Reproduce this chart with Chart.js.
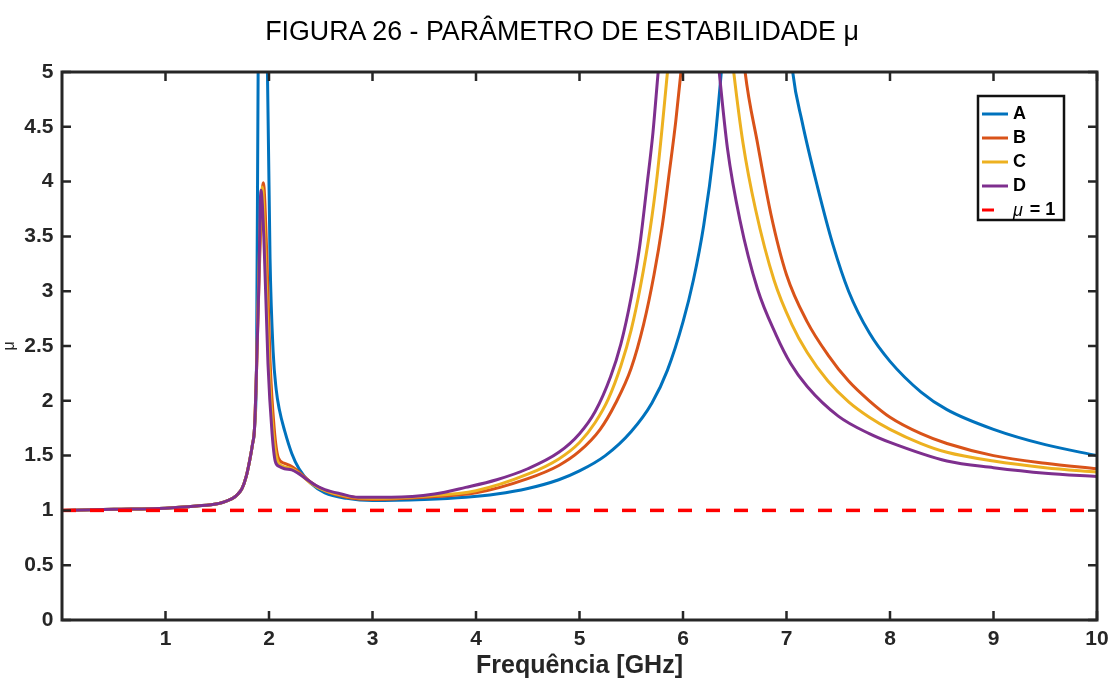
<!DOCTYPE html>
<html lang="pt">
<head>
    <meta charset="UTF-8">
    <title>Parâmetro de estabilidade μ</title>
    <style>
        body {
            margin: 0;
            background: #fff;
        }

        .figure {
            position: relative;
            width: 1112px;
            height: 681px;
            overflow: hidden;
        }

        .caption {
            position: absolute;
            left: 0;
            top: 18px;
            width: 1124px;
            text-align: center;
            font-family: "Liberation Sans", Arial, sans-serif;
            font-size: 26.8px;
            line-height: 26.5px;
            color: #000;
            z-index: 1;
        }
    </style>
</head>
<body>
    <div class="figure">
        <div class="caption">FIGURA 26 - PARÂMETRO DE ESTABILIDADE μ</div>
        <canvas id="muChart"></canvas>
    </div>

    <script src="https://cdn.jsdelivr.net/npm/chart.js"></script>
    <script>
        // frequência (GHz) e fator de estabilidade μ de cada circuito
        const freqA = [0, 0.5, 1.0, 1.3, 1.5, 1.6, 1.65, 1.7, 1.74, 1.78, 1.81, 1.84, 1.86, 1.88, 1.895, 1.94, 1.985, 2.01, 2.04, 2.07, 2.1, 2.15, 2.22, 2.29, 2.4, 2.54, 2.75, 3.0, 3.5, 3.9, 4.2, 4.5, 4.8, 5.0, 5.25, 5.5, 5.7, 5.85, 6.0, 6.1, 6.2, 6.3, 6.37, 6.7, 7.06, 7.15, 7.3, 7.45, 7.6, 7.8, 8.0, 8.3, 8.55, 9.0, 9.5, 10];
        const muA = [1.0, 1.01, 1.02, 1.04, 1.06, 1.09, 1.11, 1.15, 1.2, 1.31, 1.44, 1.6, 1.75, 2.4, 5.0, 9.0, 5.0, 3.3, 2.45, 2.1, 1.92, 1.73, 1.52, 1.38, 1.25, 1.16, 1.11, 1.09, 1.10, 1.12, 1.15, 1.2, 1.28, 1.36, 1.5, 1.72, 1.98, 2.28, 2.72, 3.1, 3.6, 4.3, 5.0, 9.0, 5.0, 4.55, 3.95, 3.42, 3.0, 2.62, 2.36, 2.08, 1.92, 1.74, 1.6, 1.5];

        const freqB = [0, 0.5, 1.0, 1.3, 1.5, 1.6, 1.65, 1.7, 1.74, 1.78, 1.81, 1.84, 1.86, 1.88, 1.91, 1.945, 1.98, 2.01, 2.05, 2.09, 2.15, 2.22, 2.29, 2.4, 2.54, 2.75, 3.0, 3.5, 4.0, 4.5, 4.8, 5.0, 5.2, 5.35, 5.5, 5.62, 5.72, 5.8, 5.87, 5.93, 5.98, 6.3, 6.6, 6.72, 6.85, 7.0, 7.2, 7.4, 7.6, 7.8, 8.0, 8.3, 8.55, 9.0, 9.5, 10];
        const muB = [1.0, 1.01, 1.02, 1.04, 1.06, 1.09, 1.11, 1.15, 1.2, 1.31, 1.44, 1.6, 1.75, 2.3, 3.3, 3.99, 3.3, 2.37, 1.75, 1.48, 1.43, 1.40, 1.35, 1.26, 1.18, 1.12, 1.10, 1.12, 1.16, 1.29, 1.41, 1.54, 1.74, 1.98, 2.3, 2.7, 3.15, 3.6, 4.1, 4.55, 5.0, 8.0, 5.0, 4.35, 3.7, 3.15, 2.72, 2.42, 2.18, 2.0, 1.85, 1.7, 1.61, 1.5, 1.43, 1.38];

        const freqC = [0, 0.5, 1.0, 1.3, 1.5, 1.6, 1.65, 1.7, 1.74, 1.78, 1.81, 1.84, 1.86, 1.88, 1.9, 1.935, 1.97, 2.0, 2.04, 2.08, 2.14, 2.22, 2.29, 2.4, 2.54, 2.75, 3.0, 3.5, 4.0, 4.5, 4.8, 5.0, 5.15, 5.28, 5.4, 5.5, 5.59, 5.68, 5.75, 5.85, 6.15, 6.49, 6.58, 6.7, 6.88, 7.05, 7.2, 7.4, 7.6, 7.8, 8.0, 8.3, 8.55, 9.0, 9.5, 10];
        const muC = [1.0, 1.01, 1.02, 1.04, 1.06, 1.09, 1.11, 1.15, 1.2, 1.31, 1.44, 1.6, 1.75, 2.3, 3.1, 3.95, 3.2, 2.35, 1.72, 1.46, 1.40, 1.38, 1.34, 1.25, 1.18, 1.13, 1.11, 1.13, 1.18, 1.33, 1.47, 1.62, 1.8, 2.02, 2.32, 2.65, 3.05, 3.55, 4.05, 5.0, 8.0, 5.0, 4.35, 3.75, 3.1, 2.7, 2.44, 2.18, 1.99, 1.85, 1.74, 1.61, 1.53, 1.45, 1.39, 1.35];

        const freqD = [0, 0.5, 1.0, 1.3, 1.5, 1.6, 1.65, 1.7, 1.74, 1.78, 1.81, 1.84, 1.86, 1.88, 1.9, 1.922, 1.95, 1.99, 2.03, 2.06, 2.1, 2.15, 2.22, 2.28, 2.34, 2.45, 2.54, 2.7, 2.86, 3.18, 3.6, 3.9, 4.2, 4.5, 4.8, 5.0, 5.15, 5.3, 5.4, 5.5, 5.58, 5.65, 5.71, 5.76, 6.05, 6.35, 6.43, 6.55, 6.72, 6.9, 7.04, 7.2, 7.5, 7.8, 8.0, 8.55, 9.0, 9.5, 10];
        const muD = [1.0, 1.01, 1.02, 1.04, 1.06, 1.09, 1.11, 1.15, 1.2, 1.31, 1.44, 1.6, 1.75, 2.3, 3.0, 3.92, 3.5, 2.34, 1.7, 1.45, 1.40, 1.38, 1.37, 1.34, 1.30, 1.23, 1.19, 1.15, 1.12, 1.12, 1.15, 1.21, 1.28, 1.38, 1.53, 1.70, 1.9, 2.22, 2.52, 2.95, 3.4, 3.95, 4.45, 5.0, 8.0, 5.0, 4.3, 3.65, 3.02, 2.6, 2.34, 2.13, 1.86, 1.7, 1.62, 1.45, 1.39, 1.34, 1.31];

        // limite de estabilidade incondicional
        const freqLimit = [0, 10];
        const muLimit = [1, 1];

        const xTicks = [1, 2, 3, 4, 5, 6, 7, 8, 9, 10];
        const yTicks = [0, 0.5, 1, 1.5, 2, 2.5, 3, 3.5, 4, 4.5, 5];

        const FONT = '"Liberation Sans", Arial, sans-serif';
        const AXIS_COLOR = '#262626';

        const toPoints = (xs, ys) => xs.map((f, i) => ({ x: f, y: ys[i] }));

        // moldura dos eixos com marcas voltadas para dentro (estilo MATLAB)
        const axesBox = {
            id: 'axesBox',
            afterDatasetsDraw(chart) {
                const { ctx, chartArea: a, scales: { x, y } } = chart;
                const len = 9;
                ctx.save();
                ctx.strokeStyle = AXIS_COLOR;
                ctx.lineWidth = 2.5;
                ctx.beginPath();
                x.ticks.forEach(t => {
                    const px = x.getPixelForValue(t.value);
                    ctx.moveTo(px, a.bottom);
                    ctx.lineTo(px, a.bottom - len);
                    ctx.moveTo(px, a.top);
                    ctx.lineTo(px, a.top + len);
                });
                y.ticks.forEach(t => {
                    const py = y.getPixelForValue(t.value);
                    ctx.moveTo(a.left, py);
                    ctx.lineTo(a.left + len, py);
                    ctx.moveTo(a.right, py);
                    ctx.lineTo(a.right - len, py);
                });
                ctx.stroke();
                ctx.lineWidth = 3;
                ctx.strokeRect(a.left, a.top, a.right - a.left, a.bottom - a.top);
                ctx.restore();
            }
        };

        // legenda com caixa, no canto superior direito da área do gráfico
        const boxLegend = {
            id: 'boxLegend',
            afterDraw(chart) {
                const { ctx, chartArea: a } = chart;
                const w = 86, h = 124;
                const left = a.right - 33 - w;
                const top = a.top + 24;
                ctx.save();
                ctx.fillStyle = '#fff';
                ctx.fillRect(left, top, w, h);
                ctx.strokeStyle = '#111';
                ctx.lineWidth = 2.5;
                ctx.strokeRect(left, top, w, h);
                ctx.textBaseline = 'middle';
                chart.data.datasets.forEach((ds, i) => {
                    const y = top + 18 + i * 24;
                    ctx.strokeStyle = ds.borderColor;
                    ctx.lineWidth = 3;
                    ctx.beginPath();
                    ctx.moveTo(left + 4, y);
                    ctx.lineTo(left + (ds.borderDash ? 16 : 30), y);
                    ctx.stroke();

                    ctx.fillStyle = '#000';
                    let tx = left + 35;
                    if (ds.label.startsWith('μ')) {
                        ctx.font = 'italic 18px ' + FONT;
                        ctx.fillText('μ', tx, y + 1);
                        tx += ctx.measureText('μ').width + 7;
                        ctx.font = 'bold 18px ' + FONT;
                        ctx.fillText(ds.label.slice(1).trim(), tx, y);
                    } else {
                        ctx.font = 'bold 18px ' + FONT;
                        ctx.fillText(ds.label, tx, y);
                    }
                });
                ctx.restore();
            }
        };

        Chart.defaults.font.family = FONT;
        Chart.defaults.color = AXIS_COLOR;

        new Chart(document.getElementById('muChart'), {
            type: 'line',
            data: {
                datasets: [
                    { label: 'A', data: toPoints(freqA, muA), borderColor: '#0072BD', order: 4 },
                    { label: 'B', data: toPoints(freqB, muB), borderColor: '#D95319', order: 3 },
                    { label: 'C', data: toPoints(freqC, muC), borderColor: '#EDB120', order: 2 },
                    { label: 'D', data: toPoints(freqD, muD), borderColor: '#7E2F8E', order: 1 },
                    {
                        label: 'μ = 1',
                        data: toPoints(freqLimit, muLimit),
                        borderColor: '#FF0000',
                        borderWidth: 3.5,
                        borderDash: [14, 14],
                        cubicInterpolationMode: 'default',
                        order: 0
                    }
                ]
            },
            options: {
                responsive: true,
                maintainAspectRatio: false,
                animation: false,
                layout: { padding: { left: 0, right: 15, top: 72, bottom: 0 } },
                elements: {
                    point: { radius: 0 },
                    line: { borderWidth: 3, cubicInterpolationMode: 'monotone', fill: false }
                },
                plugins: {
                    legend: { display: false },
                    tooltip: { enabled: false },
                    title: { display: false }
                },
                scales: {
                    x: {
                        type: 'linear',
                        min: 0,
                        max: 10,
                        grid: { display: false, drawTicks: false },
                        border: { display: false },
                        afterBuildTicks: scale => { scale.ticks = xTicks.map(v => ({ value: v })); },
                        afterFit: scale => {
                            scale.height = 61;
                            scale.paddingLeft = 0;
                            scale.paddingRight = 0;
                        },
                        ticks: {
                            autoSkip: false,
                            maxRotation: 0,
                            padding: 7,
                            color: AXIS_COLOR,
                            font: { size: 21, weight: 'bold' },
                            callback: v => String(v)
                        },
                        title: {
                            display: true,
                            text: 'Frequência [GHz]',
                            color: AXIS_COLOR,
                            font: { size: 25, weight: 'bold' },
                            padding: { top: 0, bottom: 0 }
                        }
                    },
                    y: {
                        min: 0,
                        max: 5,
                        grid: { display: false, drawTicks: false },
                        border: { display: false },
                        afterBuildTicks: scale => { scale.ticks = yTicks.map(v => ({ value: v })); },
                        afterFit: scale => {
                            scale.width = 62;
                            scale.paddingTop = 0;
                            scale.paddingBottom = 0;
                        },
                        ticks: {
                            autoSkip: false,
                            padding: 8.5,
                            color: AXIS_COLOR,
                            font: { size: 21, weight: 'bold' },
                            callback: v => String(v)
                        },
                        title: {
                            display: true,
                            text: 'μ',
                            color: AXIS_COLOR,
                            font: { size: 16 },
                            padding: { top: 0, bottom: 0 }
                        }
                    }
                }
            },
            plugins: [axesBox, boxLegend]
        });
    </script>
</body>
</html>
